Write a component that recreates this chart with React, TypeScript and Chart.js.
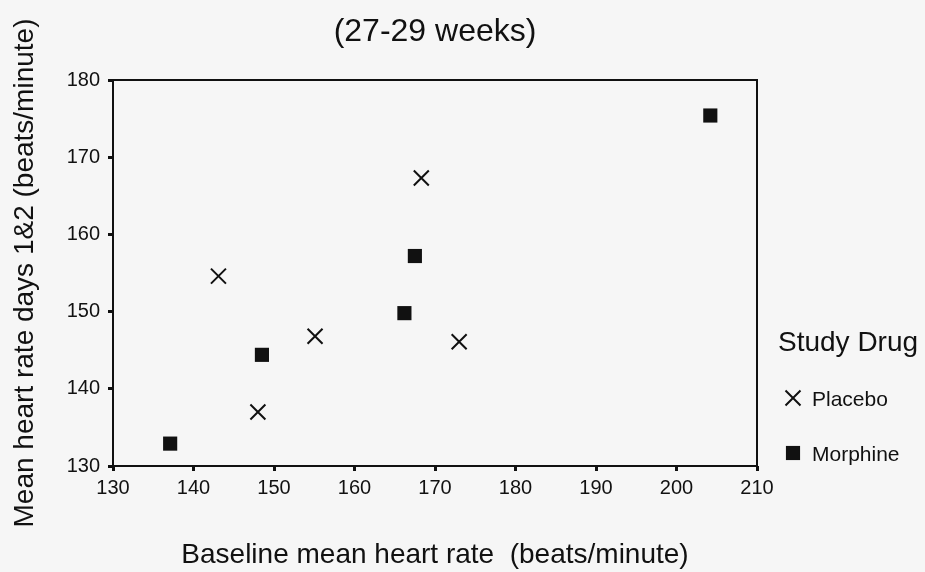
import React, { useEffect, useRef } from "react";
import { Chart, registerables } from "chart.js";

Chart.register(...registerables);

const placeboX = [143.1, 168.3, 155.1, 148.0, 173.0];
const placeboY = [154.6, 167.3, 146.8, 137.0, 146.1];
const morphineX = [137.1, 148.5, 166.2, 167.5, 204.2];
const morphineY = [132.9, 144.4, 149.8, 157.2, 175.4];
const seriesNames = ["Placebo", "Morphine"];
const legendTitle = "Study Drug";
const chartTitle = "(27-29 weeks)";
const xTitle = "Baseline mean heart rate  (beats/minute)";
const yTitle = "Mean heart rate days 1&2 (beats/minute)";
const xRange = [130, 210];
const yRange = [130, 180];
const tickStep = 10;

const FONT = "'Liberation Sans', Arial, sans-serif";
const INK = "#111";

const boxPlugin = {
  id: "boxPlugin",
  afterDatasetsDraw(chart: any) {
    const { ctx, chartArea } = chart;
    ctx.save();
    ctx.strokeStyle = INK;
    ctx.lineWidth = 2;
    ctx.strokeRect(chartArea.left, chartArea.top, chartArea.right - chartArea.left, chartArea.bottom - chartArea.top);
    ctx.restore();
  },
};

const legendPlugin = {
  id: "customLegend",
  afterDraw(chart: any) {
    const { ctx, chartArea } = chart;
    ctx.save();
    ctx.fillStyle = INK;
    ctx.textBaseline = "middle";
    ctx.textAlign = "left";
    const x0 = chartArea.right + 21;
    ctx.font = `28px ${FONT}`;
    ctx.fillText(legendTitle, x0, 343);
    const rows = [400, 455];
    chart.data.datasets.forEach((ds: any, i: number) => {
      const my = rows[i] - 2;
      const mx = x0 + 15;
      ctx.strokeStyle = INK;
      ctx.fillStyle = INK;
      if (ds.pointStyle === "crossRot") {
        const h = ds.pointRadius * Math.SQRT1_2;
        ctx.lineWidth = ds.borderWidth;
        ctx.beginPath();
        ctx.moveTo(mx - h, my - h);
        ctx.lineTo(mx + h, my + h);
        ctx.moveTo(mx - h, my + h);
        ctx.lineTo(mx + h, my - h);
        ctx.stroke();
      } else {
        const h = ds.pointRadius * Math.SQRT1_2;
        ctx.fillRect(mx - h, my - h, 2 * h, 2 * h);
      }
      ctx.font = `21px ${FONT}`;
      ctx.fillText(ds.label, x0 + 34, rows[i]);
    });
    ctx.restore();
  },
};

export default function App() {
  const ref = useRef<HTMLCanvasElement | null>(null);
  useEffect(() => {
    if (!ref.current) return;
    const chart = new Chart(ref.current, {
      type: "scatter",
      data: {
        datasets: [
          {
            label: seriesNames[0],
            data: placeboX.map((x, i) => ({ x, y: placeboY[i] })),
            pointStyle: "crossRot",
            pointRadius: 10.6,
            borderColor: INK,
            backgroundColor: INK,
            borderWidth: 2,
          },
          {
            label: seriesNames[1],
            data: morphineX.map((x, i) => ({ x, y: morphineY[i] })),
            pointStyle: "rect",
            pointRadius: 10,
            borderColor: INK,
            backgroundColor: INK,
            borderWidth: 0,
          },
        ],
      },
      options: {
        animation: false,
        responsive: false,
        events: [],
        layout: { padding: { left: 0, right: 168, top: 0, bottom: 0 } },
        plugins: {
          legend: { display: false },
          tooltip: { enabled: false },
          title: {
            display: true,
            text: chartTitle,
            fullSize: false,
            color: INK,
            font: { family: FONT, size: 32, weight: "normal" },
            padding: { top: 13, bottom: 28.6 },
          },
        },
        scales: {
          x: {
            type: "linear",
            min: xRange[0],
            max: xRange[1],
            afterFit: (s: any) => {
              s.height = 106;
            },
            border: { display: false },
            grid: { drawOnChartArea: false, drawTicks: true, tickLength: 5, lineWidth: 3, color: INK },
            ticks: { stepSize: tickStep, color: INK, padding: 5, font: { family: FONT, size: 20 } },
            title: {
              display: true,
              text: xTitle,
              color: INK,
              font: { family: FONT, size: 28 },
              padding: { top: 0, bottom: 0 },
            },
          },
          y: {
            type: "linear",
            min: yRange[0],
            max: yRange[1],
            afterFit: (s: any) => {
              s.width = 113;
            },
            border: { display: false },
            grid: { drawOnChartArea: false, drawTicks: true, tickLength: 5, lineWidth: 3, color: INK },
            ticks: { stepSize: tickStep, color: INK, padding: 8, font: { family: FONT, size: 20 } },
            title: {
              display: true,
              text: yTitle,
              color: INK,
              font: { family: FONT, size: 28 },
              padding: { top: 8, bottom: 0 },
            },
          },
        },
      },
      plugins: [boxPlugin, legendPlugin],
    });
    return () => chart.destroy();
  }, []);
  return (
    <div style={{ position: "absolute", left: 0, top: 0, width: 925, height: 572, background: "#f6f6f6" }}>
      <canvas ref={ref} width={925} height={572} style={{ display: "block" }} />
    </div>
  );
}
